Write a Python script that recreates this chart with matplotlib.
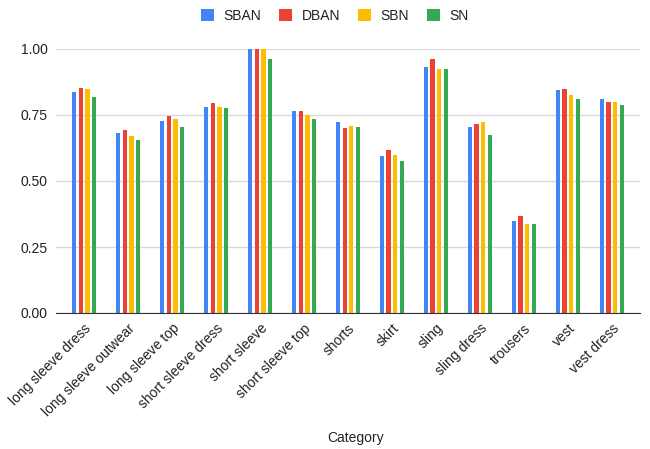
import matplotlib.pyplot as plt
import numpy as np

plt.rcParams['font.family'] = ['Liberation Sans', 'DejaVu Sans']

categories = ['long sleeve dress', 'long sleeve outwear', 'long sleeve top',
              'short sleeve dress', 'short sleeve', 'short sleeve top', 'shorts',
              'skirt', 'sling', 'sling dress', 'trousers', 'vest', 'vest dress']
sban = [0.836, 0.683, 0.729, 0.780, 1.000, 0.767, 0.724, 0.593, 0.933, 0.703, 0.348, 0.843, 0.809]
dban = [0.852, 0.692, 0.747, 0.794, 1.000, 0.767, 0.699, 0.619, 0.962, 0.716, 0.369, 0.847, 0.801]
sbn = [0.847, 0.670, 0.733, 0.780, 1.000, 0.750, 0.708, 0.598, 0.924, 0.724, 0.339, 0.827, 0.801]
sn = [0.818, 0.654, 0.704, 0.775, 0.962, 0.733, 0.703, 0.576, 0.924, 0.674, 0.339, 0.809, 0.788]

series = [('SBAN', sban, '#4285F4'), ('DBAN', dban, '#EA4335'),
          ('SBN', sbn, '#FBBC04'), ('SN', sn, '#34A853')]

fig = plt.figure(figsize=(6.5, 4.49), dpi=100)
ax = fig.add_axes([56/650, 1-313/449, 584/650, 264/449])

x = np.arange(len(categories))
step = 0.15
for i, (name, vals, col) in enumerate(series):
    ax.bar(x + (i - 1.5)*step, vals, width=0.1, color=col, label=name, zorder=3)

ax.set_xlim(-0.64, len(categories) - 0.36)
ax.set_ylim(0, 1.0)
ax.set_yticks([0, 0.25, 0.5, 0.75, 1.0])
ax.set_yticklabels(['0.00', '0.25', '0.50', '0.75', '1.00'], fontsize=10, color='#222222')
ax.set_xticks(x)
ax.set_xticklabels(categories, rotation=45, ha='right', rotation_mode='anchor',
                   fontsize=10, color='#222222')
ax.tick_params(length=0, pad=6)
ax.grid(axis='y', color='#d9d9d9', linewidth=1, zorder=0)
for s in ['top', 'right', 'left']:
    ax.spines[s].set_visible(False)
ax.spines['bottom'].set_color('#333333')
ax.spines['bottom'].set_zorder(4)

fig.text(356/650, 1-438/449, 'Category', ha='center', va='center', fontsize=10, color='#222222')
fig.legend(loc='center', bbox_to_anchor=(335/650, 1-16/449), ncol=4, frameon=False,
           fontsize=10, handlelength=0.9, handleheight=0.9, columnspacing=1.3,
           handletextpad=0.7, labelcolor='#222222')

fig.savefig('out.png', dpi=100)
